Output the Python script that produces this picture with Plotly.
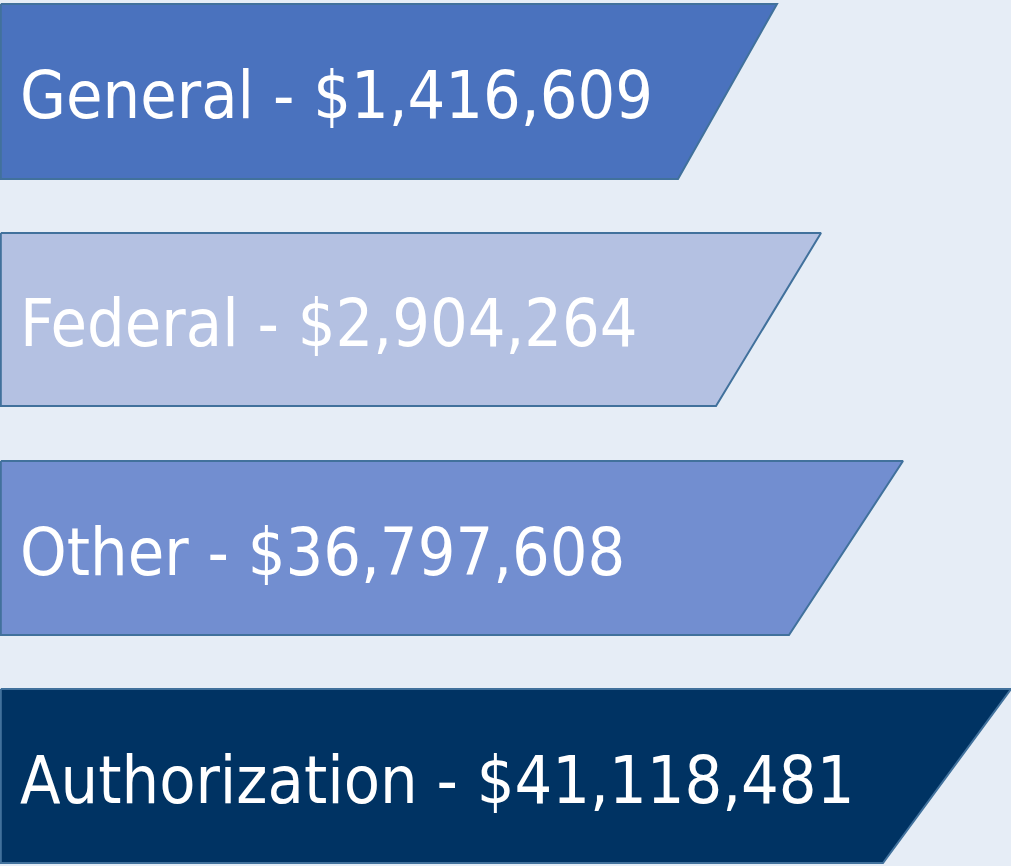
import plotly.graph_objects as go

# Funding sources and amounts
categories = ["General", "Federal", "Other", "Authorization"]
amounts = [1416609, 2904264, 36797608, 41118481]

# band geometry (canvas units, y grows downward)
band_top = [4, 233, 461, 689]
band_bottom = [179, 406, 635, 863]
edge_top = [777, 821, 903, 1011]
edge_bottom = [678, 716, 789, 883]

fill_colors = ["#4A72BE", "#B4C1E2", "#728ED0", "#003363"]
outline = "#41719C"
bg = "#E6EDF6"

fig = go.Figure()

for i, cat in enumerate(categories):
    t, b = band_top[i], band_bottom[i]
    fig.add_trace(go.Scatter(
        x=[0.8, edge_top[i], edge_bottom[i], 0.8, 0.8],
        y=[t, t, b, b, t],
        mode="lines",
        fill="toself",
        fillcolor=fill_colors[i],
        line=dict(color=outline, width=2),
        hoverinfo="skip",
        showlegend=False,
    ))

labels = [f"{c} - ${a:,}" for c, a in zip(categories, amounts)]
mids = [(t + b) / 2 + 10 for t, b in zip(band_top, band_bottom)]

fig.add_trace(go.Scatter(
    x=[20] * len(labels),
    y=mids,
    mode="text",
    text=labels,
    textposition="middle right",
    textfont=dict(family="Liberation Sans Narrow, Arial Narrow, DejaVu Sans Condensed, sans-serif",
                  size=66, color="white"),
    hoverinfo="skip",
    showlegend=False,
))

fig.update_layout(
    width=1011, height=866,
    margin=dict(l=0, r=0, t=0, b=0),
    paper_bgcolor=bg,
    plot_bgcolor=bg,
    xaxis=dict(range=[0, 1011], visible=False, fixedrange=True),
    yaxis=dict(range=[866, 0], visible=False, fixedrange=True),
)

# drop the default page margin so the figure sits flush in the window
fig.write_html("out.html", config={"displayModeBar": False},
               post_script="document.body.style.margin='0';")
